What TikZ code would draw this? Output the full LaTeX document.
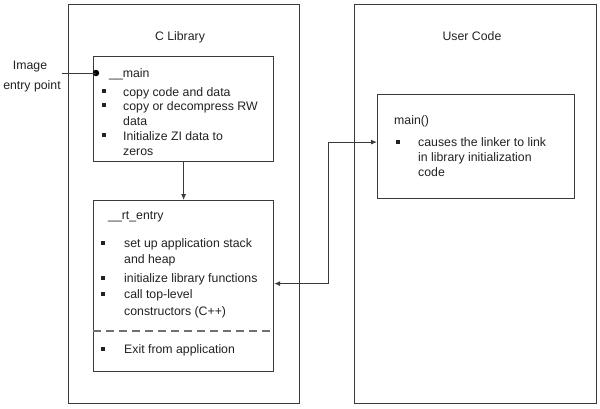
\documentclass[tikz,border=0pt]{standalone}
\usepackage{fontspec}
\setmainfont{Liberation Sans}
\usetikzlibrary{arrows.meta}
\definecolor{linec}{HTML}{3A3A3A}
\definecolor{txtc}{HTML}{222222}
\definecolor{dashc}{HTML}{707070}
\begin{document}
\begin{tikzpicture}[x=1pt,y=-1pt,
  box/.style={draw=linec, line width=1.2pt, rectangle, inner sep=0pt, anchor=north west},
  txt/.style={anchor=base west, inner sep=0pt, text=txtc, font=\fontsize{12.3}{15}\selectfont},
  ctxt/.style={anchor=base, inner sep=0pt, text=txtc, font=\fontsize{12.3}{15}\selectfont},
  bul/.style={fill=txtc, inner sep=0pt, minimum size=3.2pt, rectangle},
  conn/.style={draw=linec, line width=1pt},
  tip/.tip={Latex[length=6pt,width=5pt]},
]
\useasboundingbox (0,0) rectangle (600,408);
\fill[white] (0,0) rectangle (600,408);

% outer boxes
\node[box, minimum width=231pt, minimum height=399pt] (clib) at (68,4) {};
\node[box, minimum width=242pt, minimum height=399pt] (user) at (354,4) {};
\node[ctxt] (clibt) at (180,40) {C Library};
\node[ctxt] (usert) at (472,40) {User Code};

% inner boxes
\node[box, minimum width=180pt, minimum height=105pt] (mainbox) at (93,56) {};
\node[box, minimum width=180pt, minimum height=171pt] (rtbox) at (93,200) {};
\node[box, minimum width=197pt, minimum height=104pt] (umain) at (377,94) {};

% dashed separator
\path (rtbox.north west) ++(0,131) coordinate (dl);
\draw[draw=dashc, line width=1.5pt, dash pattern=on 8pt off 5pt] (dl) -- (dl -| rtbox.east);

% image entry point
\node[txt, anchor=base] (img) at (30,69) {Image};
\node[txt, anchor=base] (entry) at (32,89) {entry point};
\coordinate (ep) at (62,73);
\node[circle, fill=black, inner sep=0pt, minimum size=6.5pt] (dot) at (96,73) {};
\draw[conn] (ep) -- (dot.center);

% __main contents
\node[txt] (mainname) at (109,77) {\_\_main};
\node[bul] (b1) at (104,91) {};
\node[txt] (m1) at (123,96) {copy code and data};
\node[bul] (b2) at (104,105) {};
\node[txt] (m2a) at (123,110) {copy or decompress RW};
\node[txt] (m2b) at (123,125) {data};
\node[bul] (b3) at (104,135) {};
\node[txt] (m3a) at (123,140) {Initialize ZI data to};
\node[txt] (m3b) at (123,155) {zeros};

% __rt_entry contents
\node[txt] (rtname) at (108,219) {\_\_rt\_entry};
\node[bul] (r1) at (103,243) {};
\node[txt] (rt1a) at (124,247) {set up application stack};
\node[txt] (rt1b) at (124,263) {and heap};
\node[bul] (r2) at (103,278) {};
\node[txt] (rt2) at (124,282) {initialize library functions};
\node[bul] (r3) at (103,294) {};
\node[txt] (rt3a) at (124,298) {call top-level};
\node[txt] (rt3b) at (124,315) {constructors (C++)};
\node[bul] (r4) at (103,349) {};
\node[txt] (rt4) at (124,353) {Exit from application};

% main() contents
\node[txt] (umname) at (394,124) {main()};
\node[bul] (u1) at (398,142) {};
\node[txt] (u1a) at (418,146) {causes the linker to link};
\node[txt] (u1b) at (418,161) {in library initialization};
\node[txt] (u1c) at (418,176) {code};

% connectors
\draw[conn, -tip] (mainbox) -- (rtbox);
\draw[conn, tip-tip] ([yshift=2.5pt]rtbox.east) -- ++(54,0) |- ([yshift=4.5pt]umain.west);
\end{tikzpicture}
\end{document}
